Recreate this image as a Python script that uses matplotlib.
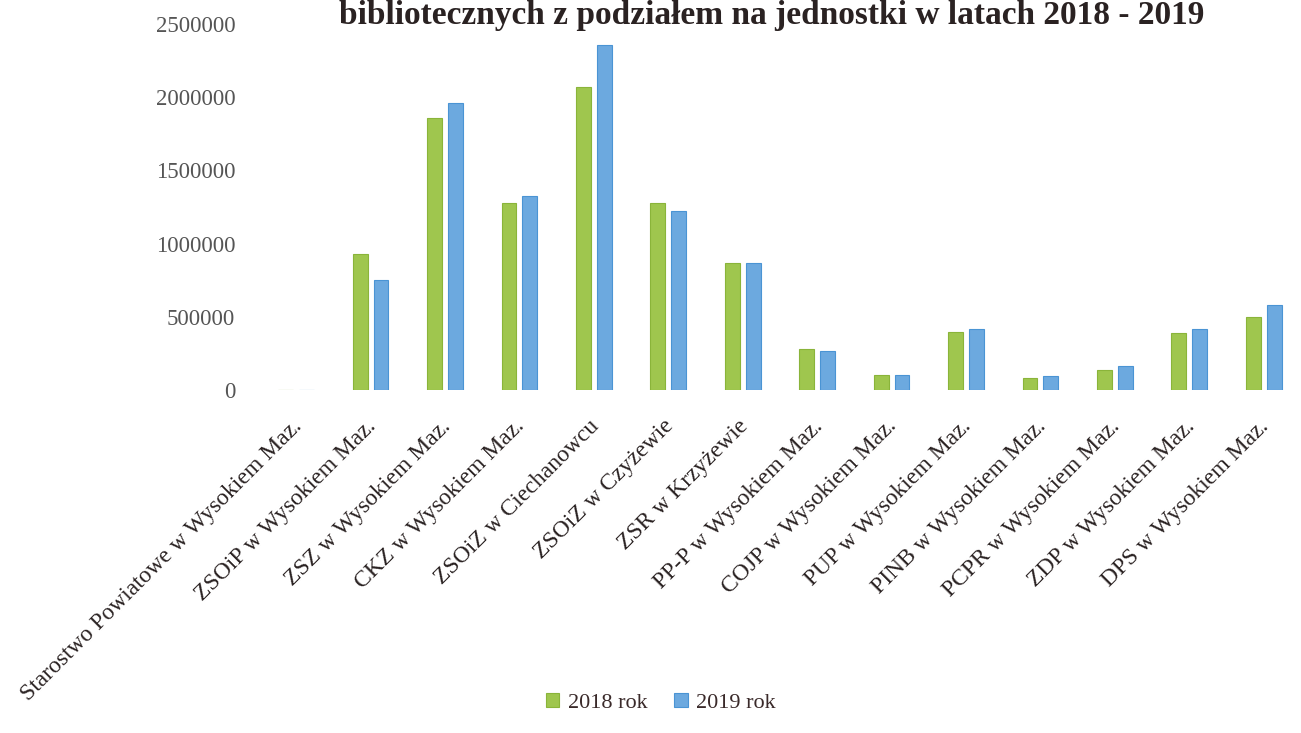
import matplotlib
matplotlib.use("Agg")
import matplotlib.pyplot as plt
import numpy as np

units = ['Starostwo Powiatowe w Wysokiem Maz.',
         'ZSOiP w Wysokiem Maz.',
         'ZSZ w Wysokiem Maz.',
         'CKZ w Wysokiem Maz.',
         'ZSOiZ w Ciechanowcu',
         'ZSOiZ w Czyżewie',
         'ZSR w Krzyżewie',
         'PP-P w Wysokiem Maz.',
         'COJP w Wysokiem Maz.',
         'PUP w Wysokiem Maz.',
         'PINB w Wysokiem Maz.',
         'PCPR w Wysokiem Maz.',
         'ZDP w Wysokiem Maz.',
         'DPS w Wysokiem Maz.']
val_2018 = [3000, 927000, 1856000, 1279000, 2074000, 1280000, 866000,
            280000, 102000, 397000, 84000, 136000, 389000, 496000]
val_2019 = [3000, 752000, 1961000, 1325000, 2356000, 1220000, 866000,
            264000, 102000, 416000, 93000, 162000, 416000, 582000]
series_names = ['2018 rok', '2019 rok']
yticks = [0, 500000, 1000000, 1500000, 2000000, 2500000]

plt.rcParams['font.family'] = ['Liberation Serif', 'DejaVu Serif']

fig = plt.figure(figsize=(13.01, 7.33), dpi=100)
ax = fig.add_axes([0.199, 0.468, 0.801, 0.499])

x = np.arange(len(units))
w = 0.2
ax.bar(x - 0.14, val_2018, w, color='#9fc64e', edgecolor='#8ab43a',
       linewidth=0.8, label=series_names[0])
ax.bar(x + 0.14, val_2019, w, color='#6ca9df', edgecolor='#4a94d4',
       linewidth=0.8, label=series_names[1])

ax.set_xlim(-0.5, len(units) - 0.5)
ax.set_ylim(0, 2500000)
ax.set_yticks(yticks)
ax.set_yticklabels([str(v) for v in yticks], fontsize=16.5, color='#555555')
ax.set_xticks(x + 0.03)
ax.set_xticklabels(units, rotation=45, ha='right', va='center',
                   rotation_mode='anchor', fontsize=17, color='#2a2222')
ax.tick_params(axis='both', length=0)
ax.tick_params(axis='y', pad=17)
ax.tick_params(axis='x', pad=24)
for s in ax.spines.values():
    s.set_visible(False)

# title sits at the very top edge, as in the scanned original
fig.text(0.593, 1 - 24 / 733, 'bibliotecznych z podziałem na jednostki w latach 2018 - 2019',
         ha='center', va='baseline', fontsize=24, fontweight='bold', color='#2a2222')

ax.legend(loc='center', bbox_to_anchor=(0.508, 1 - 703 / 733), bbox_transform=fig.transFigure,
          ncol=2, frameon=False, fontsize=16, handlelength=0.6, handleheight=0.6,
          handletextpad=0.4, columnspacing=1.2, labelcolor='#3a2a2a')

fig.savefig('out.png', dpi=100)
